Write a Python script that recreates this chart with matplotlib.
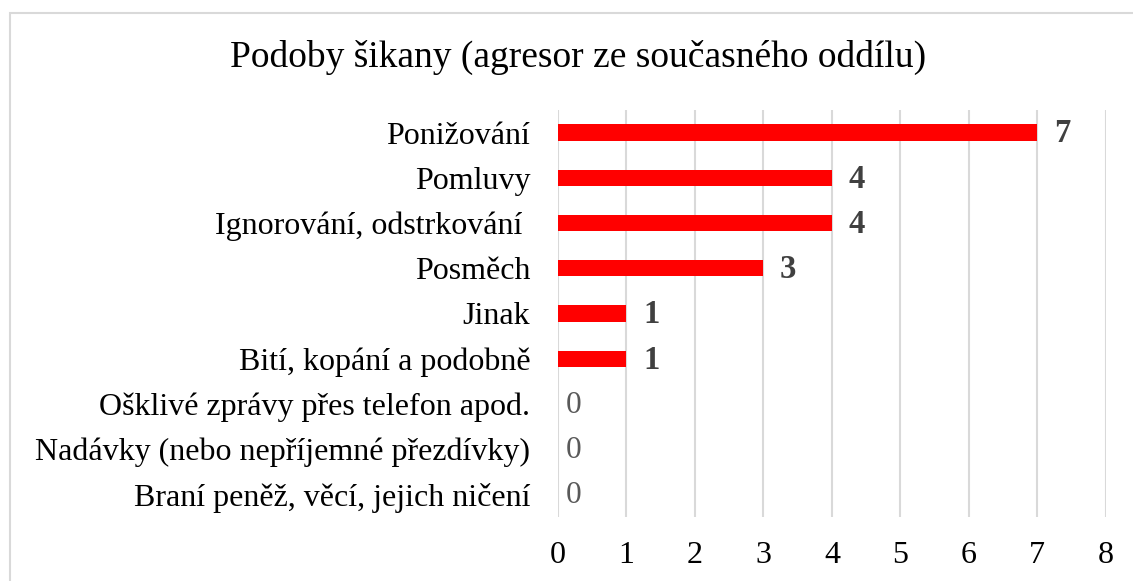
import matplotlib.pyplot as plt
from matplotlib.patches import Rectangle

title = 'Podoby šikany (agresor ze současného oddílu)'
categories = ['Ponižování', 'Pomluvy', 'Ignorování, odstrkování ', 'Posměch', 'Jinak',
              'Bití, kopání a podobně', 'Ošklivé zprávy přes telefon apod.',
              'Nadávky (nebo nepříjemné přezdívky)', 'Braní peněž, věcí, jejich ničení']
values = [7, 4, 4, 3, 1, 1, 0, 0, 0]
xticks = [0, 1, 2, 3, 4, 5, 6, 7, 8]


def plot_bars():
    plt.rcParams['font.family'] = ['Liberation Serif', 'DejaVu Serif']

    fig = plt.figure(figsize=(11.33, 5.81), dpi=100)
    ax = fig.add_axes([0.4925, 0.1102, 0.4835, 0.7005])

    # light frame around the chart area
    fig.patches.append(Rectangle((10 / 1133, -0.1), 1.2, 0.1 + (1 - 13 / 581), transform=fig.transFigure,
                                 fill=False, edgecolor='#d9d9d9', linewidth=1.5))

    y = list(range(len(categories)))
    ax.barh(y, values, height=0.36, color='#ff0000', zorder=3)

    for i, v in zip(y, values):
        if v > 0:
            ax.text(v + 0.24, i + 0.03, str(v), va='center', ha='left', fontsize=23.5,
                    fontweight='bold', color='#404040')
        else:
            ax.text(v + 0.11, i + 0.03, str(v), va='center', ha='left', fontsize=22.5,
                    color='#595959')

    ax.set_yticks(y)
    ax.set_yticklabels(categories, fontsize=23)
    ax.set_ylim(len(categories) - 0.5, -0.5)
    ax.set_xlim(0, 8)
    ax.set_xticks(xticks)
    ax.tick_params(axis='x', labelsize=23, length=0, pad=17)
    ax.tick_params(axis='y', length=0, pad=20)

    for s in ax.spines.values():
        s.set_visible(False)
    ax.xaxis.grid(color='#d9d9d9', linewidth=1.5, zorder=0)
    ax.set_axisbelow(True)

    fig.text(578 / 1133, 1 - 57 / 581, title, ha='center', va='center', fontsize=27)

    plt.savefig('out.png', dpi=100)


if __name__ == '__main__':
    plot_bars()
